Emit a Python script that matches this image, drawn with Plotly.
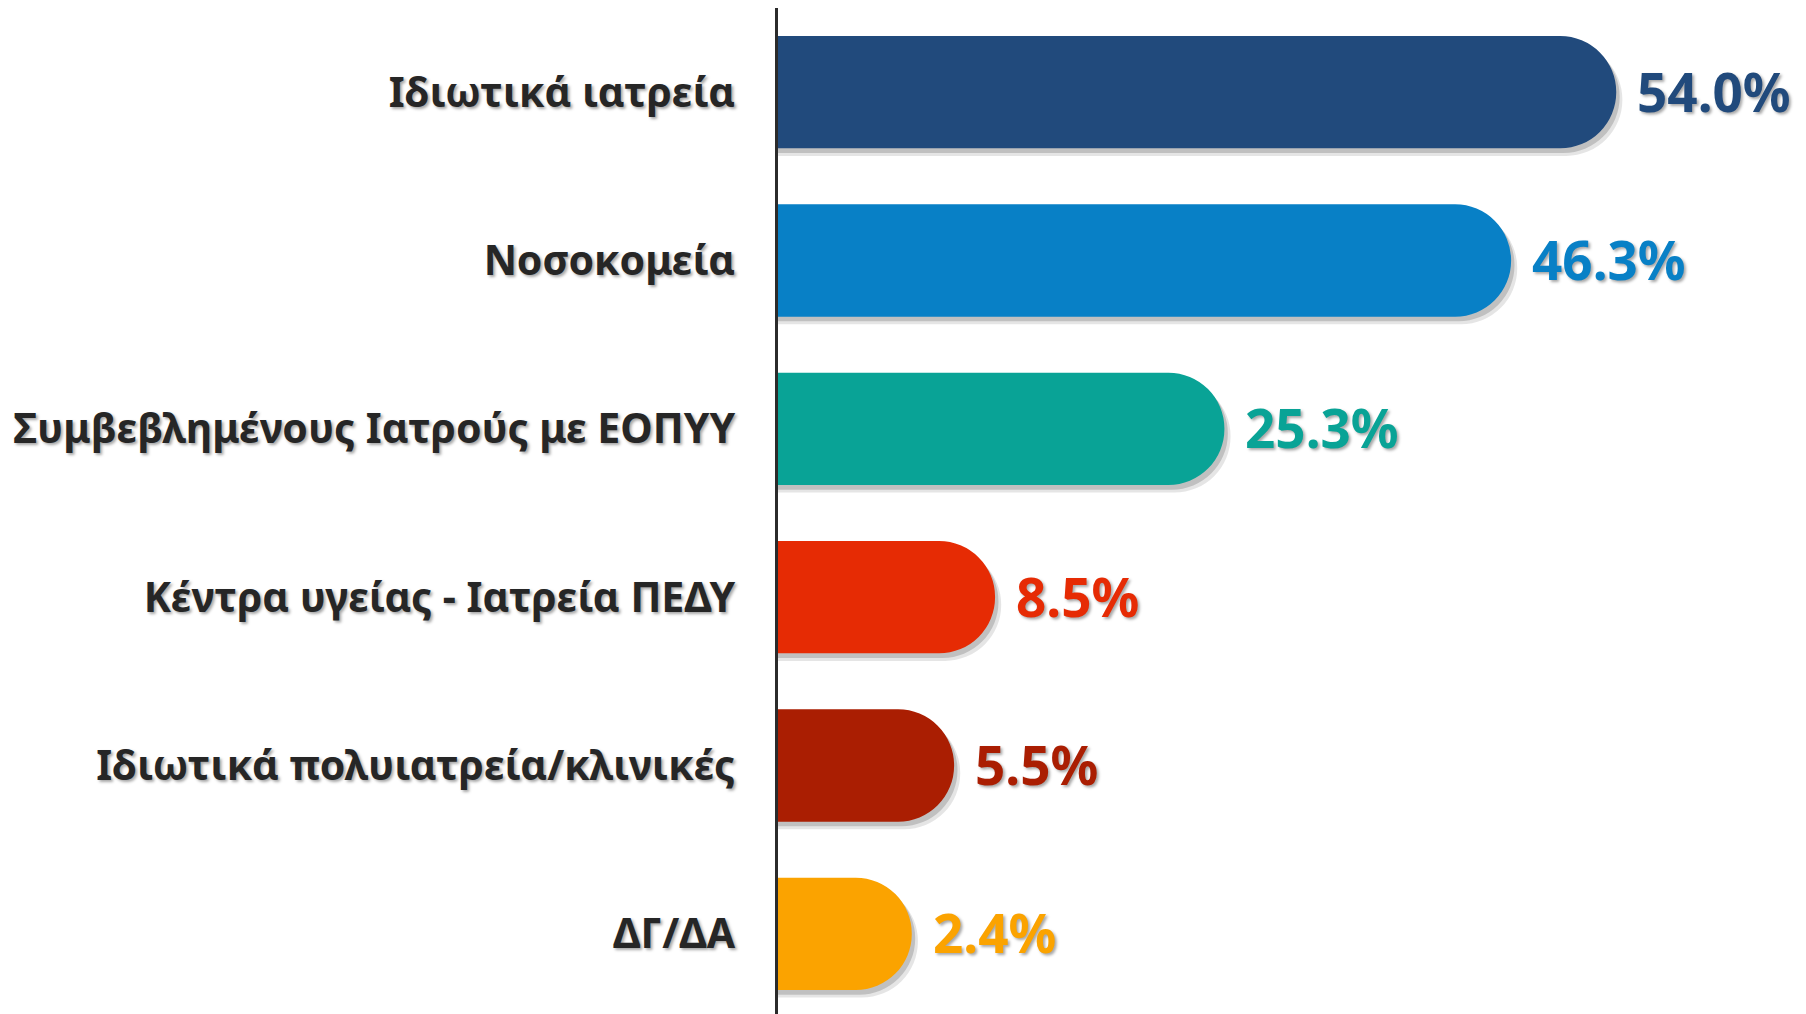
import plotly.graph_objects as go

categories = ["Ιδιωτικά ιατρεία", "Νοσοκομεία", "Συμβεβλημένους Ιατρούς με ΕΟΠΥΥ",
              "Κέντρα υγείας - Ιατρεία ΠΕΔΥ", "Ιδιωτικά πολυιατρεία/κλινικές", "ΔΓ/ΔΑ"]
values = [54.0, 46.3, 25.3, 8.5, 5.5, 2.4]
colors = ["#214A7C", "#0880C6", "#09A396", "#E62B04", "#AA1E02", "#FBA300"]
value_labels = ["54.0%", "46.3%", "25.3%", "8.5%", "5.5%", "2.4%"]

X_START = -7.4
BASE = -20.0
BAR_W = 0.667
FONT = "Noto Sans"

fig = go.Figure()

# soft shadow layers
for dx, dy, a in [(0.45, 0.045, 0.10), (0.25, 0.028, 0.16)]:
    fig.add_trace(go.Bar(
        y=categories, x=[v - BASE + dx for v in values], base=BASE,
        orientation="h", width=BAR_W, offset=-BAR_W / 2 + dy,
        marker=dict(color=f"rgba(0,0,0,{a})", cornerradius=56, line=dict(width=0)),
        hoverinfo="skip", showlegend=False,
    ))
fig.add_trace(go.Bar(
    y=categories, x=[v - BASE for v in values], base=BASE,
    orientation="h", width=BAR_W, offset=-BAR_W / 2,
    marker=dict(color=colors, cornerradius=56, line=dict(width=0)),
    showlegend=False,
))

for c, v, lab, col in zip(categories, values, value_labels, colors):
    fig.add_annotation(
        x=v, y=c, text=f"<b>{lab}</b>", showarrow=False,
        xanchor="left", yanchor="middle", xshift=19, yshift=1,
        font=dict(family=FONT, size=53, color=col,
                  shadow="2px 2px 3px rgba(0,0,0,0.35)"),
    )

fig.update_layout(
    width=1798, height=1010,
    margin=dict(l=770, r=0, t=0, b=0),
    paper_bgcolor="white", plot_bgcolor="rgba(0,0,0,0)",
    barmode="overlay",
    xaxis=dict(range=[X_START, 67.9], visible=False, fixedrange=True),
    yaxis=dict(
        autorange="reversed", showline=True, linecolor="#2b2b2b", linewidth=2.5,
        ticks="", showgrid=False, ticklabelstandoff=32,
        tickfont=dict(family=FONT, size=41, color="#262626",
                      shadow="2px 2px 3px rgba(0,0,0,0.35)"),
        tickprefix="<b>", ticksuffix="</b>",
    ),
)

fig.write_html("out.html")
